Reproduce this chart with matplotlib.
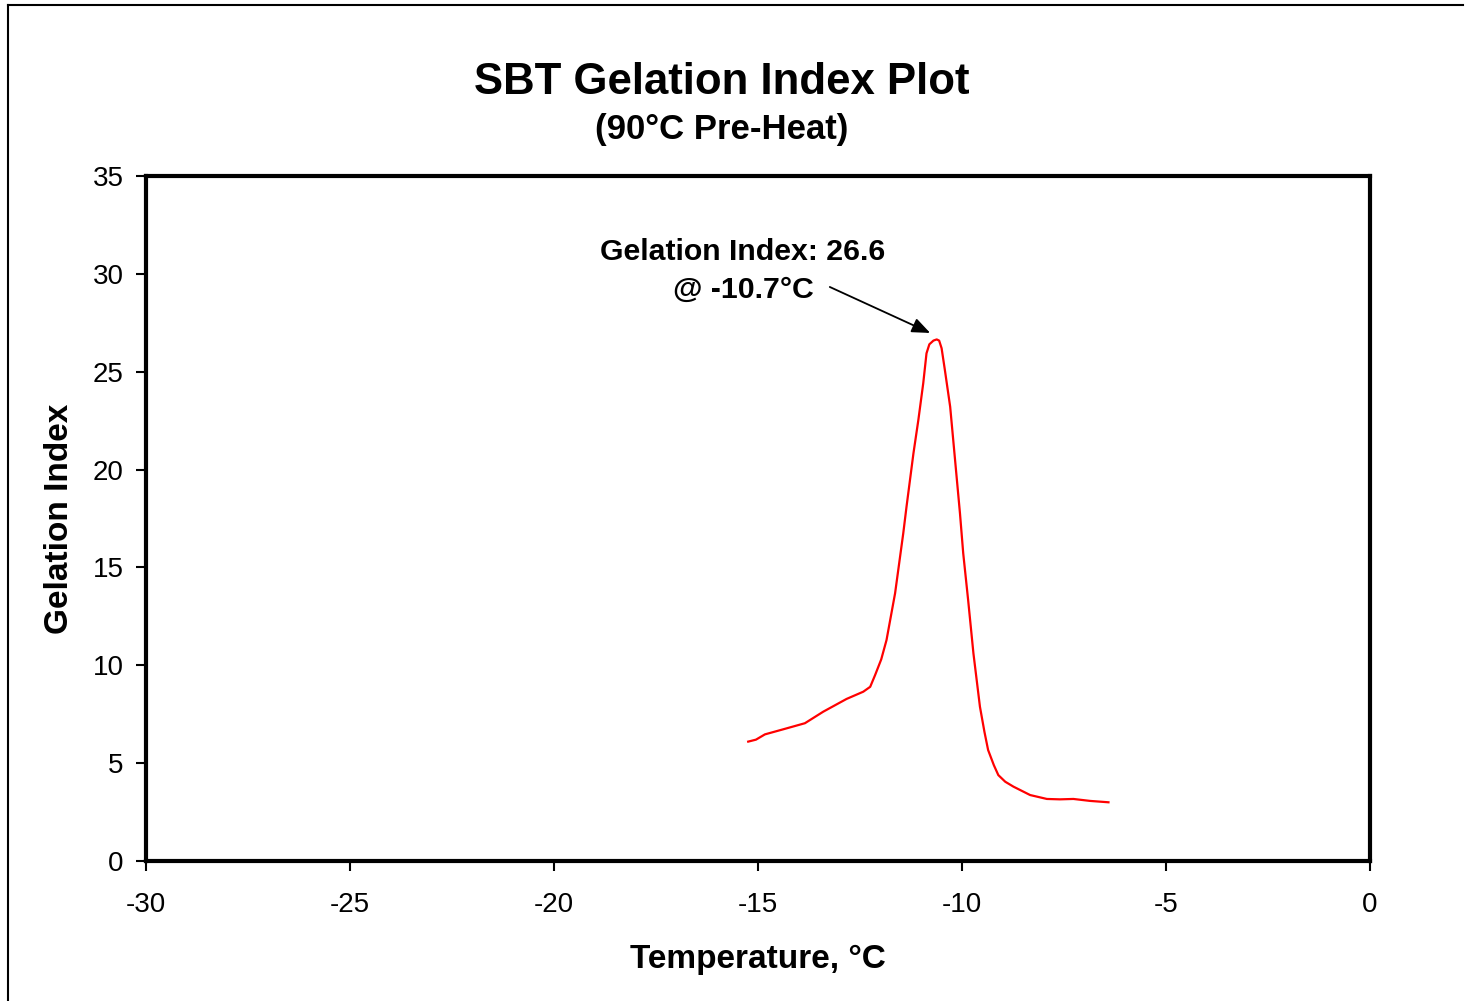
import matplotlib.pyplot as plt
from matplotlib.lines import Line2D

plt.rcParams['font.family'] = ['Liberation Sans', 'DejaVu Sans']
plt.rcParams['axes.unicode_minus'] = False

# curve
temp = [-15.24, -15.05, -14.83, -14.38, -13.85, -13.40, -12.83, -12.42, -12.25,
        -12.13, -11.98, -11.85, -11.64, -11.44, -11.36, -11.19, -11.07, -10.95,
        -10.87, -10.80, -10.70, -10.62, -10.56, -10.50, -10.42, -10.29, -10.17,
        -10.05, -9.97, -9.85, -9.72, -9.56, -9.45, -9.36, -9.22, -9.11, -8.94,
        -8.74, -8.33, -7.92, -7.60, -7.27, -6.86, -6.41]
gel = [6.10, 6.20, 6.47, 6.73, 7.04, 7.63, 8.28, 8.65, 8.90,
       9.50, 10.30, 11.29, 13.68, 16.74, 18.10, 20.83, 22.53, 24.41,
       25.94, 26.40, 26.59, 26.65, 26.59, 26.20, 25.09, 23.21, 20.49,
       17.77, 15.72, 13.34, 10.61, 7.88, 6.60, 5.67, 4.90, 4.39, 4.05,
       3.80, 3.37, 3.17, 3.15, 3.17, 3.07, 3.00]

xticks = [-30, -25, -20, -15, -10, -5, 0]
yticks = [0, 5, 10, 15, 20, 25, 30, 35]

W, H = 1465, 1001
fig = plt.figure(figsize=(W / 100, H / 100), dpi=100)
ax = fig.add_axes([146 / W, 1 - 861 / H, (1370 - 146) / W, (861 - 176) / H])

ax.plot(temp, gel, color='red', lw=1.6, solid_joinstyle='round')

ax.set_xlim(-30, 0)
ax.set_ylim(0, 35)
ax.set_xticks(xticks)
ax.set_yticks(yticks)
ax.tick_params(direction='out', length=7, width=1.5, labelsize=20)
ax.tick_params(axis='x', pad=15)
ax.tick_params(axis='y', pad=9)
for s in ax.spines.values():
    s.set_linewidth(3)

ax.set_xlabel('Temperature, °C', fontsize=24, fontweight='bold', labelpad=19)
ax.set_ylabel('Gelation Index', fontsize=24, fontweight='bold', labelpad=13)

fig.text(722 / W, 1 - 82 / H, 'SBT Gelation Index Plot', ha='center', va='center',
         fontsize=31.5, fontweight='bold')
fig.text(722 / W, 1 - 129 / H, '(90°C Pre-Heat)', ha='center', va='center',
         fontsize=25, fontweight='bold')

ax.text(-15.37, 30.15, 'Gelation Index: 26.6\n@ -10.7°C', ha='center', va='center',
        fontsize=21.8, fontweight='bold', linespacing=1.45)
ax.annotate('', xy=(-10.78, 26.98), xytext=(-13.24, 29.33),
            arrowprops=dict(arrowstyle='-|>,head_length=1.1,head_width=0.45',
                            color='black', lw=1.3, shrinkA=0, shrinkB=0))

# outer chart frame (clipped on right and bottom in the reference)
fig.add_artist(Line2D([8 / W, 8 / W], [0, 1 - 5 / H], color='black', lw=1.5,
                      transform=fig.transFigure))
fig.add_artist(Line2D([8 / W, 1463 / W], [1 - 5 / H, 1 - 5 / H], color='black',
                      lw=1.5, transform=fig.transFigure))

fig.savefig('out.png', dpi=100)
